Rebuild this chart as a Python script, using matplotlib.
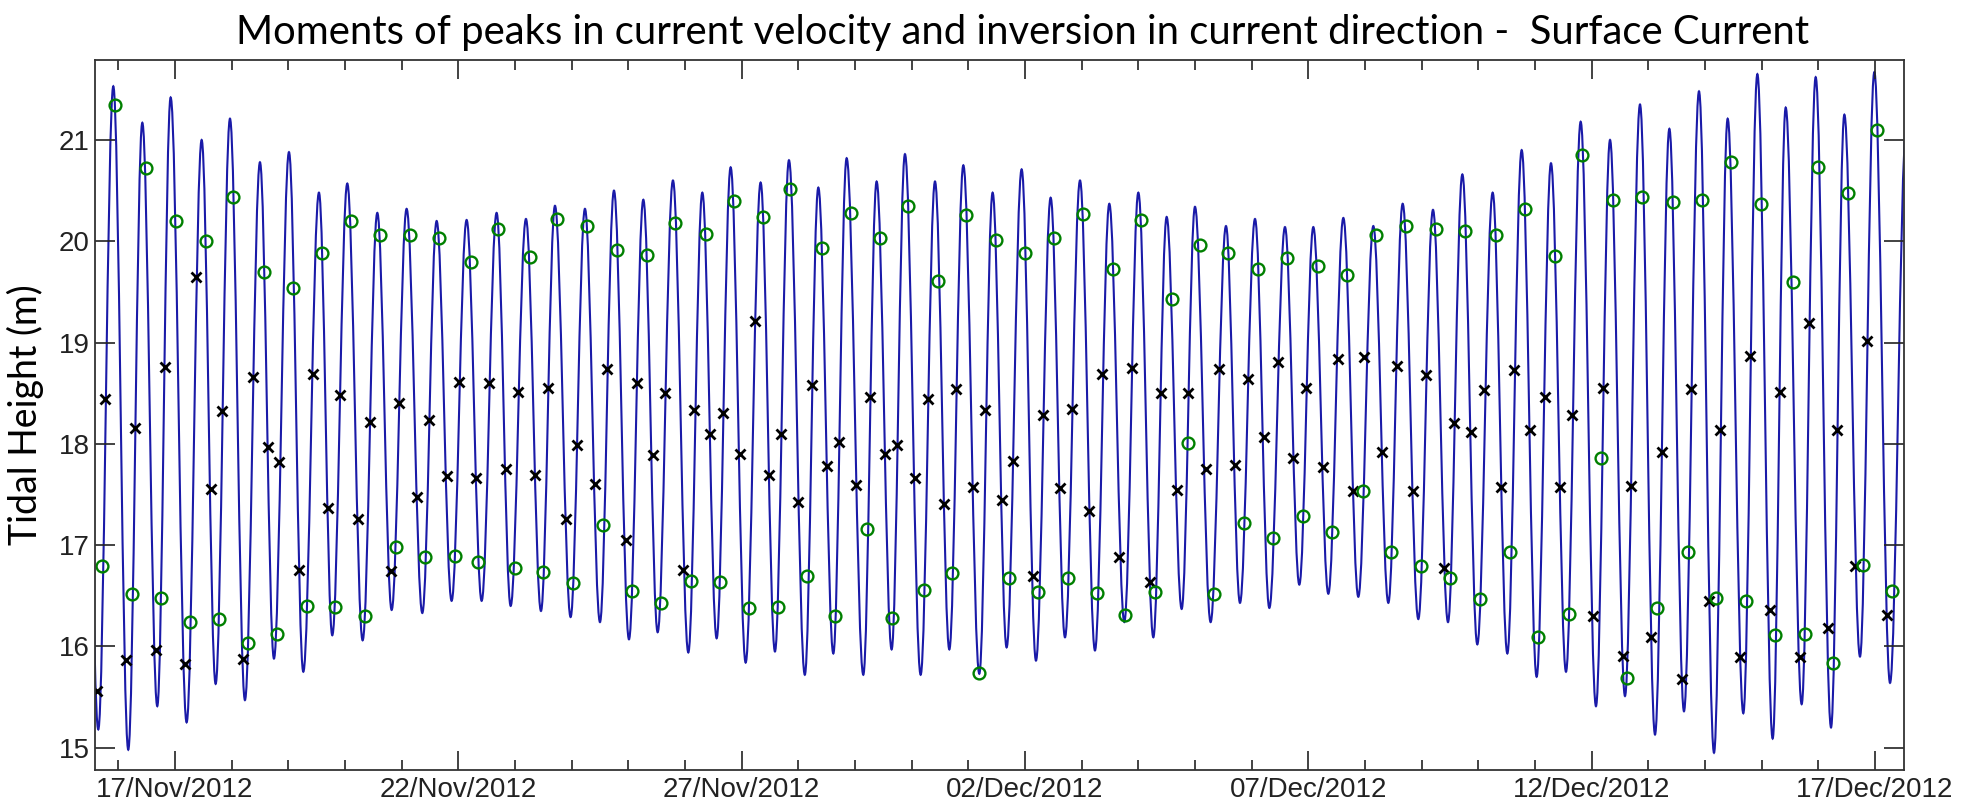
import datetime as dt

import matplotlib
matplotlib.use("Agg")
import matplotlib.dates as mdates
import matplotlib.pyplot as plt
import numpy as np
from matplotlib.patches import PathPatch
from matplotlib.path import Path

# time axis: days counted from 17/Nov/2012 00:00
START = dt.datetime(2012, 11, 17)

# high and low waters of the tide record (days, m)
turn_day = [
    -1.610, -1.353, -1.088, -0.824, -0.576, -0.312, -0.076, 0.206, 0.471, 0.718,
    0.971, 1.235, 1.500, 1.747, 2.012, 2.265, 2.541, 2.776, 3.041, 3.312,
    3.571, 3.824, 4.088, 4.365, 4.618, 4.882, 5.147, 5.412, 5.676, 5.924,
    6.194, 6.459, 6.706, 6.982, 7.235, 7.500, 7.747, 8.012, 8.265, 8.518,
    8.788, 9.059, 9.306, 9.559, 9.806, 10.071, 10.335, 10.588, 10.835, 11.115,
    11.353, 11.618, 11.853, 12.147, 12.382, 12.647, 12.882, 13.159, 13.412, 13.665,
    13.912, 14.194, 14.429, 14.676, 14.941, 15.194, 15.453, 15.706, 15.971, 16.235,
    16.488, 16.753, 17.000, 17.265, 17.500, 17.765, 18.000, 18.276, 18.547, 18.794,
    19.059, 19.312, 19.588, 19.841, 20.088, 20.353, 20.618, 20.882, 21.147, 21.412,
    21.665, 21.941, 22.200, 22.465, 22.718, 22.982, 23.253, 23.512, 23.765, 24.029,
    24.282, 24.547, 24.806, 25.076, 25.324, 25.588, 25.853, 26.118, 26.371, 26.629,
    26.894, 27.159, 27.400, 27.676, 27.924, 28.194, 28.424, 28.706, 28.953, 29.224,
    29.459, 29.735, 29.988, 30.265, 30.550,
]
turn_height = [
    20.20, 15.18, 21.53, 14.98, 21.17, 15.41, 21.42, 15.25, 21.00, 15.63,
    21.21, 15.47, 20.78, 15.88, 20.88, 15.75, 20.48, 16.11, 20.57, 16.06,
    20.28, 16.36, 20.32, 16.33, 20.20, 16.45, 20.21, 16.45, 20.28, 16.40,
    20.22, 16.35, 20.35, 16.29, 20.32, 16.24, 20.50, 16.07, 20.41, 16.14,
    20.60, 15.94, 20.48, 16.08, 20.73, 15.84, 20.58, 15.95, 20.80, 15.72,
    20.53, 15.93, 20.82, 15.72, 20.59, 15.97, 20.86, 15.72, 20.59, 15.97,
    20.75, 15.73, 20.48, 15.99, 20.71, 15.86, 20.43, 16.09, 20.60, 15.96,
    20.37, 16.24, 20.48, 16.09, 20.24, 16.37, 20.34, 16.24, 20.15, 16.43,
    20.22, 16.38, 20.14, 16.61, 20.14, 16.52, 20.23, 16.49, 20.15, 16.43,
    20.37, 16.27, 20.31, 16.24, 20.66, 16.02, 20.48, 15.93, 20.90, 15.70,
    20.77, 15.75, 21.18, 15.41, 21.00, 15.51, 21.35, 15.13, 21.11, 15.36,
    21.48, 14.95, 21.21, 15.34, 21.65, 15.09, 21.32, 15.43, 21.62, 15.20,
    21.25, 15.90, 21.67, 15.64, 21.10,
]

# moments of peak current velocity
peak_day = [
    -1.294, -1.059, -0.753, -0.518, -0.253, 0.018, 0.265, 0.547, 0.771, 1.029,
    1.294, 1.576, 1.794, 2.088, 2.324, 2.600, 2.824, 3.106, 3.359, 3.618,
    3.900, 4.147, 4.412, 4.659, 4.941, 5.218, 5.353, 5.706, 5.994, 6.265,
    6.500, 6.747, 7.018, 7.276, 7.547, 7.806, 8.071, 8.335, 8.571, 8.824,
    9.100, 9.365, 9.618, 9.865, 10.129, 10.371, 10.635, 10.853, 11.159, 11.424,
    11.647, 11.929, 12.206, 12.441, 12.659, 12.941, 13.218, 13.471, 13.706, 13.953,
    14.194, 14.488, 14.724, 15.000, 15.235, 15.512, 15.765, 16.018, 16.276, 16.559,
    16.765, 17.041, 17.294, 17.600, 17.882, 18.088, 18.335, 18.588, 18.871, 19.118,
    19.382, 19.618, 19.912, 20.165, 20.424, 20.676, 20.971, 21.188, 21.453, 21.718,
    21.982, 22.247, 22.500, 22.765, 23.029, 23.312, 23.559, 23.824, 24.059, 24.353,
    24.600, 24.835, 25.165, 25.382, 25.618, 25.894, 26.159, 26.429, 26.694, 26.941,
    27.200, 27.453, 27.718, 27.988, 28.235, 28.553, 28.759, 29.000, 29.253, 29.529,
    29.794, 30.041, 30.306,
]
peak_height = [
    16.79, 21.35, 16.52, 20.72, 16.48, 20.20, 16.24, 20.00, 16.27, 20.44,
    16.03, 19.70, 16.12, 19.54, 16.40, 19.88, 16.39, 20.20, 16.30, 20.06,
    16.98, 20.06, 16.88, 20.03, 16.89, 19.80, 16.83, 20.12, 16.77, 19.84,
    16.73, 20.22, 16.63, 20.15, 17.20, 19.91, 16.55, 19.86, 16.43, 20.18,
    16.65, 20.07, 16.64, 20.40, 16.38, 20.24, 16.39, 20.52, 16.70, 19.93,
    16.30, 20.28, 17.16, 20.03, 16.28, 20.35, 16.56, 19.61, 16.72, 20.26,
    15.74, 20.01, 16.68, 19.88, 16.54, 20.03, 16.68, 20.27, 16.53, 19.73,
    16.31, 20.21, 16.54, 19.43, 18.01, 19.96, 16.52, 19.88, 17.22, 19.73,
    17.07, 19.83, 17.29, 19.76, 17.13, 19.67, 17.53, 20.06, 16.93, 20.15,
    16.79, 20.12, 16.68, 20.10, 16.47, 20.06, 16.93, 20.32, 16.09, 19.85,
    16.32, 20.85, 17.86, 20.41, 15.69, 20.44, 16.38, 20.39, 16.93, 20.41,
    16.48, 20.78, 16.45, 20.37, 16.11, 19.60, 16.12, 20.73, 15.84, 20.48,
    16.80, 21.10, 16.55,
]

# moments of inversion in current direction
flip_day = [
    -1.382, -1.235, -0.871, -0.706, -0.341, -0.176, 0.176, 0.371, 0.629, 0.835,
    1.206, 1.382, 1.647, 1.841, 2.194, 2.429, 2.706, 2.912, 3.235, 3.441,
    3.806, 3.959, 4.276, 4.482, 4.794, 5.018, 5.312, 5.541, 5.835, 6.059,
    6.353, 6.588, 6.900, 7.088, 7.412, 7.629, 7.953, 8.147, 8.429, 8.647,
    8.971, 9.159, 9.441, 9.676, 9.971, 10.235, 10.488, 10.688, 11.000, 11.235,
    11.500, 11.724, 12.012, 12.265, 12.529, 12.735, 13.059, 13.282, 13.576, 13.776,
    14.076, 14.294, 14.588, 14.782, 15.135, 15.312, 15.618, 15.824, 16.129, 16.353,
    16.665, 16.882, 17.200, 17.394, 17.676, 17.882, 18.188, 18.429, 18.706, 18.929,
    19.218, 19.459, 19.735, 19.959, 20.253, 20.518, 20.794, 20.988, 21.294, 21.559,
    21.841, 22.071, 22.394, 22.571, 22.865, 23.106, 23.400, 23.635, 23.912, 24.176,
    24.441, 24.659, 25.018, 25.206, 25.559, 25.694, 26.041, 26.235, 26.600, 26.747,
    27.076, 27.265, 27.618, 27.794, 28.141, 28.329, 28.671, 28.841, 29.176, 29.335,
    29.647, 29.853, 30.206,
]
flip_height = [
    15.56, 18.44, 15.87, 18.16, 15.96, 18.76, 15.83, 19.65, 17.55, 18.32,
    15.88, 18.66, 17.97, 17.82, 16.75, 18.69, 17.37, 18.48, 17.26, 18.22,
    16.74, 18.40, 17.48, 18.24, 17.68, 18.61, 17.66, 18.60, 17.75, 18.51,
    17.69, 18.55, 17.26, 17.99, 17.60, 18.74, 17.05, 18.60, 17.89, 18.50,
    16.75, 18.33, 18.10, 18.30, 17.90, 19.21, 17.69, 18.10, 17.43, 18.58,
    17.78, 18.02, 17.59, 18.46, 17.90, 17.99, 17.66, 18.44, 17.41, 18.54,
    17.57, 18.33, 17.45, 17.83, 16.70, 18.28, 17.56, 18.34, 17.34, 18.69,
    16.88, 18.75, 16.64, 18.50, 17.54, 18.50, 17.75, 18.74, 17.79, 18.64,
    18.07, 18.81, 17.86, 18.55, 17.77, 18.84, 17.53, 18.86, 17.92, 18.77,
    17.53, 18.68, 16.77, 18.21, 18.12, 18.53, 17.57, 18.73, 18.14, 18.46,
    17.57, 18.28, 16.30, 18.55, 15.91, 17.58, 16.09, 17.92, 15.68, 18.54,
    16.45, 18.14, 15.90, 18.87, 16.36, 18.51, 15.90, 19.19, 16.18, 18.14,
    16.79, 19.02, 16.31,
]

y_ticks = [15, 16, 17, 18, 19, 20, 21]


def to_dates(days):
    return mdates.date2num(START) + np.asarray(days, dtype=float)


def tide_path(days, heights, k=0.364):
    # smooth tide curve: one cubic segment between each high and low water,
    # flat at the turning points
    xs = to_dates(days)
    hs = np.asarray(heights, dtype=float)
    verts = [(xs[0], hs[0])]
    codes = [Path.MOVETO]
    for i in range(len(xs) - 1):
        dx = xs[i + 1] - xs[i]
        verts += [(xs[i] + k * dx, hs[i]), (xs[i + 1] - k * dx, hs[i + 1]), (xs[i + 1], hs[i + 1])]
        codes += [Path.CURVE4] * 3
    return Path(verts, codes)


fig = plt.figure(figsize=(19.82, 8.06), dpi=100)
ax = fig.add_axes([0.0479, 0.0447, 0.9127, 0.8809])

ax.add_patch(PathPatch(tide_path(turn_day, turn_height), facecolor="none",
                       edgecolor="#1a1aa8", linewidth=1.5))
ax.plot(to_dates(flip_day), flip_height, "x", color="black", ms=7, mew=2.0)
ax.plot(to_dates(peak_day), peak_height, "o", mfc="none", mec=(0, 0.5, 0), ms=8.5, mew=1.7)

ax.set_xlim(to_dates([-1.412, 30.51]))
ax.set_ylim(14.78, 21.79)

ax.xaxis.set_major_locator(mdates.DayLocator(bymonthday=[2, 7, 12, 17, 22, 27]))
ax.xaxis.set_minor_locator(mdates.DayLocator())
ax.xaxis.set_major_formatter(mdates.DateFormatter("%d/%b/%Y"))
ax.set_yticks(y_ticks)

for lab in ax.get_xticklabels() + ax.get_yticklabels():
    lab.set_fontfamily("Liberation Sans")
    lab.set_fontsize(20)

ax.tick_params(axis="both", which="both", direction="in", top=True, right=True,
               colors="#222222", width=1.2)
ax.tick_params(axis="x", which="major", length=13.7, pad=5)
ax.tick_params(axis="x", which="minor", length=7.2)
ax.tick_params(axis="y", which="major", length=14.4, pad=4)
for s in ax.spines.values():
    s.set_color("#333333")
    s.set_linewidth(1.3)

ax.set_ylabel("Tidal Height (m)", family="Lato", fontsize=27)
ax.yaxis.set_label_coords(-0.028, 0.5)
fig.text(0.516, 0.945, "Moments of peaks in current velocity and inversion in current direction -  Surface Current",
         family="Lato", fontsize=28.8, ha="center", va="baseline")

fig.savefig("out.png", dpi=100)
